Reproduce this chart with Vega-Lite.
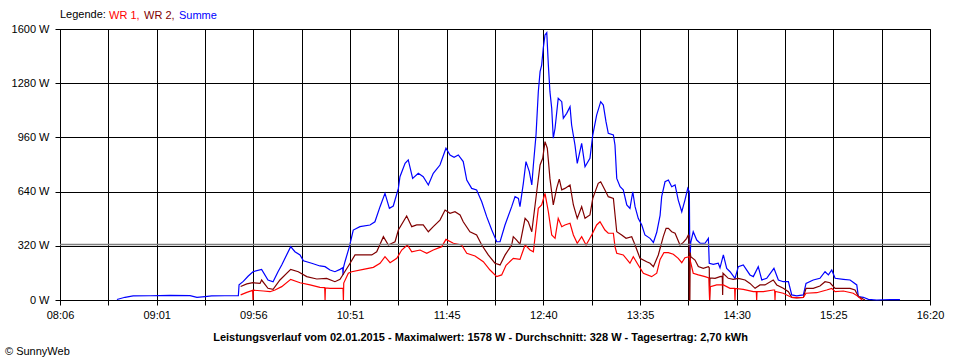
{
  "$schema": "https://vega.github.io/schema/vega-lite/v6.json",
  "width": 870,
  "height": 271,
  "autosize": {"type": "none"},
  "padding": {"left": 60, "top": 29, "right": 30, "bottom": 60},
  "background": "white",
  "config": {
    "font": "Liberation Sans",
    "view": {"stroke": "black", "strokeWidth": 1},
    "axis": {
      "labelFont": "Liberation Sans",
      "labelFontSize": 11,
      "labelColor": "black",
      "tickColor": "black",
      "tickSize": 5,
      "domainColor": "black",
      "gridColor": "black",
      "gridOpacity": 1,
      "gridWidth": 1
    }
  },
  "title": {
    "text": "© SunnyWeb",
    "orient": "bottom",
    "anchor": "start",
    "frame": "group",
    "font": "Liberation Sans",
    "fontSize": 11,
    "fontWeight": "normal",
    "color": "black",
    "dx": -55,
    "offset": 4
  },
  "layer": [
    {
      "data": {
        "values": [
          {"s": "Summe", "min": 518.3, "w": 3}, {"s": "Summe", "min": 522.9, "w": 16}, {"s": "Summe", "min": 527.5, "w": 24},
          {"s": "Summe", "min": 537.1, "w": 25}, {"s": "Summe", "min": 548.4, "w": 27}, {"s": "Summe", "min": 559.8, "w": 26},
          {"s": "Summe", "min": 563.7, "w": 16}, {"s": "Summe", "min": 568.3, "w": 20}, {"s": "Summe", "min": 572.0, "w": 24},
          {"s": "Summe", "min": 579.6, "w": 25}, {"s": "Summe", "min": 586.0, "w": 25}, {"s": "Summe", "min": 587.2, "w": 25},
          {"s": "Summe", "min": 587.6, "w": 90}, {"s": "Summe", "min": 590.0, "w": 110}, {"s": "Summe", "min": 592.7, "w": 140},
          {"s": "Summe", "min": 595.5, "w": 167}, {"s": "Summe", "min": 600.4, "w": 181}, {"s": "Summe", "min": 604.0, "w": 118},
          {"s": "Summe", "min": 606.9, "w": 108}, {"s": "Summe", "min": 609.7, "w": 167}, {"s": "Summe", "min": 611.8, "w": 207},
          {"s": "Summe", "min": 616.9, "w": 315}, {"s": "Summe", "min": 619.3, "w": 285}, {"s": "Summe", "min": 622.2, "w": 266},
          {"s": "Summe", "min": 624.1, "w": 232}, {"s": "Summe", "min": 628.8, "w": 217}, {"s": "Summe", "min": 633.5, "w": 201},
          {"s": "Summe", "min": 636.4, "w": 197}, {"s": "Summe", "min": 639.2, "w": 177}, {"s": "Summe", "min": 642.0, "w": 167},
          {"s": "Summe", "min": 644.9, "w": 181}, {"s": "Summe", "min": 646.4, "w": 190}, {"s": "Summe", "min": 646.6, "w": 148},
          {"s": "Summe", "min": 646.8, "w": 190}, {"s": "Summe", "min": 647.7, "w": 226}, {"s": "Summe", "min": 650.2, "w": 315},
          {"s": "Summe", "min": 652.4, "w": 413}, {"s": "Summe", "min": 656.2, "w": 433}, {"s": "Summe", "min": 661.9, "w": 443},
          {"s": "Summe", "min": 664.7, "w": 462}, {"s": "Summe", "min": 667.6, "w": 551}, {"s": "Summe", "min": 670.4, "w": 630},
          {"s": "Summe", "min": 672.9, "w": 541}, {"s": "Summe", "min": 675.1, "w": 555}, {"s": "Summe", "min": 678.0, "w": 659},
          {"s": "Summe", "min": 678.9, "w": 728}, {"s": "Summe", "min": 681.8, "w": 807}, {"s": "Summe", "min": 683.6, "w": 827},
          {"s": "Summe", "min": 686.1, "w": 718}, {"s": "Summe", "min": 689.3, "w": 748}, {"s": "Summe", "min": 692.1, "w": 728},
          {"s": "Summe", "min": 695.0, "w": 679}, {"s": "Summe", "min": 697.8, "w": 748}, {"s": "Summe", "min": 701.6, "w": 797},
          {"s": "Summe", "min": 705.0, "w": 896}, {"s": "Summe", "min": 707.3, "w": 856}, {"s": "Summe", "min": 709.6, "w": 843},
          {"s": "Summe", "min": 712.0, "w": 856}, {"s": "Summe", "min": 714.8, "w": 817}, {"s": "Summe", "min": 716.8, "w": 708},
          {"s": "Summe", "min": 719.6, "w": 659}, {"s": "Summe", "min": 722.4, "w": 650}, {"s": "Summe", "min": 725.3, "w": 580},
          {"s": "Summe", "min": 728.1, "w": 492}, {"s": "Summe", "min": 731.0, "w": 413}, {"s": "Summe", "min": 733.8, "w": 344},
          {"s": "Summe", "min": 735.7, "w": 344}, {"s": "Summe", "min": 738.5, "w": 443}, {"s": "Summe", "min": 742.3, "w": 551},
          {"s": "Summe", "min": 744.2, "w": 610}, {"s": "Summe", "min": 746.1, "w": 600}, {"s": "Summe", "min": 747.0, "w": 551},
          {"s": "Summe", "min": 748.9, "w": 689}, {"s": "Summe", "min": 750.4, "w": 817}, {"s": "Summe", "min": 752.3, "w": 758},
          {"s": "Summe", "min": 753.7, "w": 679}, {"s": "Summe", "min": 754.6, "w": 797}, {"s": "Summe", "min": 756.1, "w": 974},
          {"s": "Summe", "min": 757.4, "w": 1230}, {"s": "Summe", "min": 758.4, "w": 1348}, {"s": "Summe", "min": 759.3, "w": 1387},
          {"s": "Summe", "min": 760.2, "w": 1486}, {"s": "Summe", "min": 761.2, "w": 1565}, {"s": "Summe", "min": 762.2, "w": 1578},
          {"s": "Summe", "min": 763.1, "w": 1387}, {"s": "Summe", "min": 764.0, "w": 1230}, {"s": "Summe", "min": 765.0, "w": 1132},
          {"s": "Summe", "min": 765.9, "w": 955}, {"s": "Summe", "min": 766.9, "w": 1014}, {"s": "Summe", "min": 768.7, "w": 1191},
          {"s": "Summe", "min": 770.7, "w": 1171}, {"s": "Summe", "min": 771.6, "w": 1073}, {"s": "Summe", "min": 773.5, "w": 1102},
          {"s": "Summe", "min": 775.4, "w": 1141}, {"s": "Summe", "min": 776.3, "w": 1033}, {"s": "Summe", "min": 778.2, "w": 915},
          {"s": "Summe", "min": 779.5, "w": 807}, {"s": "Summe", "min": 782.0, "w": 925}, {"s": "Summe", "min": 783.9, "w": 787},
          {"s": "Summe", "min": 786.7, "w": 837}, {"s": "Summe", "min": 788.3, "w": 974}, {"s": "Summe", "min": 790.5, "w": 1092},
          {"s": "Summe", "min": 792.8, "w": 1171}, {"s": "Summe", "min": 794.3, "w": 1151}, {"s": "Summe", "min": 795.8, "w": 1053},
          {"s": "Summe", "min": 797.1, "w": 984}, {"s": "Summe", "min": 800.0, "w": 974}, {"s": "Summe", "min": 800.9, "w": 915},
          {"s": "Summe", "min": 801.9, "w": 718}, {"s": "Summe", "min": 803.8, "w": 669}, {"s": "Summe", "min": 805.6, "w": 650},
          {"s": "Summe", "min": 807.6, "w": 561}, {"s": "Summe", "min": 809.4, "w": 541}, {"s": "Summe", "min": 811.0, "w": 639},
          {"s": "Summe", "min": 812.3, "w": 551}, {"s": "Summe", "min": 814.1, "w": 482}, {"s": "Summe", "min": 816.1, "w": 443},
          {"s": "Summe", "min": 817.9, "w": 384}, {"s": "Summe", "min": 820.8, "w": 364}, {"s": "Summe", "min": 822.7, "w": 340},
          {"s": "Summe", "min": 824.6, "w": 400}, {"s": "Summe", "min": 826.5, "w": 500}, {"s": "Summe", "min": 827.4, "w": 610},
          {"s": "Summe", "min": 829.3, "w": 698}, {"s": "Summe", "min": 831.2, "w": 708}, {"s": "Summe", "min": 833.1, "w": 669},
          {"s": "Summe", "min": 835.0, "w": 679}, {"s": "Summe", "min": 836.8, "w": 590}, {"s": "Summe", "min": 838.8, "w": 521},
          {"s": "Summe", "min": 840.6, "w": 590}, {"s": "Summe", "min": 842.2, "w": 659}, {"s": "Summe", "min": 843.1, "w": 639},
          {"s": "Summe", "min": 843.4, "w": 217}, {"s": "Summe", "min": 843.9, "w": 340}, {"s": "Summe", "min": 845.3, "w": 403},
          {"s": "Summe", "min": 847.3, "w": 354}, {"s": "Summe", "min": 849.2, "w": 335}, {"s": "Summe", "min": 852.0, "w": 335},
          {"s": "Summe", "min": 853.9, "w": 364}, {"s": "Summe", "min": 854.4, "w": 217}, {"s": "Summe", "min": 856.7, "w": 210},
          {"s": "Summe", "min": 859.5, "w": 217}, {"s": "Summe", "min": 860.5, "w": 190}, {"s": "Summe", "min": 862.4, "w": 266},
          {"s": "Summe", "min": 864.3, "w": 187}, {"s": "Summe", "min": 866.2, "w": 167}, {"s": "Summe", "min": 869.0, "w": 128},
          {"s": "Summe", "min": 870.9, "w": 197}, {"s": "Summe", "min": 873.7, "w": 207}, {"s": "Summe", "min": 877.5, "w": 148},
          {"s": "Summe", "min": 879.4, "w": 138}, {"s": "Summe", "min": 882.2, "w": 197}, {"s": "Summe", "min": 884.2, "w": 118},
          {"s": "Summe", "min": 887.0, "w": 128}, {"s": "Summe", "min": 891.1, "w": 187}, {"s": "Summe", "min": 893.6, "w": 118},
          {"s": "Summe", "min": 896.4, "w": 108}, {"s": "Summe", "min": 899.3, "w": 108}, {"s": "Summe", "min": 901.2, "w": 30},
          {"s": "Summe", "min": 904.0, "w": 24}, {"s": "Summe", "min": 907.8, "w": 30}, {"s": "Summe", "min": 909.3, "w": 98},
          {"s": "Summe", "min": 913.4, "w": 118}, {"s": "Summe", "min": 917.2, "w": 128}, {"s": "Summe", "min": 920.1, "w": 167},
          {"s": "Summe", "min": 922.0, "w": 148}, {"s": "Summe", "min": 923.9, "w": 177}, {"s": "Summe", "min": 925.8, "w": 128},
          {"s": "Summe", "min": 930.5, "w": 122}, {"s": "Summe", "min": 934.3, "w": 118}, {"s": "Summe", "min": 938.1, "w": 89},
          {"s": "Summe", "min": 939.0, "w": 20}, {"s": "Summe", "min": 941.8, "w": 16}, {"s": "Summe", "min": 944.7, "w": 4},
          {"s": "Summe", "min": 949.4, "w": 0}, {"s": "Summe", "min": 957.0, "w": 3}, {"s": "Summe", "min": 962.6, "w": 2},

          {"s": "WR 2", "min": 588.5, "w": 80}, {"s": "WR 2", "min": 592.0, "w": 95}, {"s": "WR 2", "min": 595.5, "w": 102},
          {"s": "WR 2", "min": 599.5, "w": 98}, {"s": "WR 2", "min": 600.4, "w": 118}, {"s": "WR 2", "min": 604.0, "w": 69},
          {"s": "WR 2", "min": 606.9, "w": 63}, {"s": "WR 2", "min": 610.8, "w": 118}, {"s": "WR 2", "min": 616.9, "w": 181},
          {"s": "WR 2", "min": 621.2, "w": 167}, {"s": "WR 2", "min": 626.0, "w": 138}, {"s": "WR 2", "min": 631.7, "w": 124},
          {"s": "WR 2", "min": 637.3, "w": 128}, {"s": "WR 2", "min": 642.0, "w": 108}, {"s": "WR 2", "min": 644.9, "w": 122},
          {"s": "WR 2", "min": 650.6, "w": 217}, {"s": "WR 2", "min": 653.4, "w": 266}, {"s": "WR 2", "min": 658.1, "w": 266},
          {"s": "WR 2", "min": 662.9, "w": 266}, {"s": "WR 2", "min": 665.7, "w": 285}, {"s": "WR 2", "min": 669.5, "w": 374},
          {"s": "WR 2", "min": 672.3, "w": 325}, {"s": "WR 2", "min": 676.1, "w": 344}, {"s": "WR 2", "min": 678.0, "w": 413},
          {"s": "WR 2", "min": 682.7, "w": 496}, {"s": "WR 2", "min": 685.6, "w": 433}, {"s": "WR 2", "min": 688.4, "w": 443},
          {"s": "WR 2", "min": 692.1, "w": 443}, {"s": "WR 2", "min": 695.0, "w": 403}, {"s": "WR 2", "min": 697.8, "w": 433},
          {"s": "WR 2", "min": 701.6, "w": 472}, {"s": "WR 2", "min": 704.5, "w": 531}, {"s": "WR 2", "min": 707.3, "w": 512},
          {"s": "WR 2", "min": 710.1, "w": 521}, {"s": "WR 2", "min": 713.0, "w": 502}, {"s": "WR 2", "min": 714.8, "w": 462},
          {"s": "WR 2", "min": 718.6, "w": 403}, {"s": "WR 2", "min": 722.4, "w": 384}, {"s": "WR 2", "min": 725.3, "w": 325},
          {"s": "WR 2", "min": 729.0, "w": 266}, {"s": "WR 2", "min": 732.8, "w": 217}, {"s": "WR 2", "min": 735.7, "w": 207},
          {"s": "WR 2", "min": 738.5, "w": 265}, {"s": "WR 2", "min": 742.3, "w": 325}, {"s": "WR 2", "min": 743.2, "w": 374},
          {"s": "WR 2", "min": 745.1, "w": 354}, {"s": "WR 2", "min": 747.0, "w": 330}, {"s": "WR 2", "min": 749.9, "w": 482},
          {"s": "WR 2", "min": 751.7, "w": 462}, {"s": "WR 2", "min": 753.7, "w": 403}, {"s": "WR 2", "min": 756.5, "w": 639},
          {"s": "WR 2", "min": 758.4, "w": 797}, {"s": "WR 2", "min": 759.9, "w": 837}, {"s": "WR 2", "min": 761.2, "w": 935},
          {"s": "WR 2", "min": 762.5, "w": 896}, {"s": "WR 2", "min": 764.0, "w": 718}, {"s": "WR 2", "min": 765.9, "w": 561},
          {"s": "WR 2", "min": 767.8, "w": 659}, {"s": "WR 2", "min": 769.3, "w": 714}, {"s": "WR 2", "min": 770.7, "w": 650},
          {"s": "WR 2", "min": 772.5, "w": 659}, {"s": "WR 2", "min": 775.4, "w": 679}, {"s": "WR 2", "min": 777.3, "w": 561},
          {"s": "WR 2", "min": 779.5, "w": 482}, {"s": "WR 2", "min": 782.0, "w": 551}, {"s": "WR 2", "min": 783.9, "w": 482},
          {"s": "WR 2", "min": 786.7, "w": 502}, {"s": "WR 2", "min": 788.3, "w": 600}, {"s": "WR 2", "min": 791.4, "w": 689},
          {"s": "WR 2", "min": 792.8, "w": 698}, {"s": "WR 2", "min": 795.2, "w": 650}, {"s": "WR 2", "min": 797.1, "w": 610},
          {"s": "WR 2", "min": 800.0, "w": 600}, {"s": "WR 2", "min": 801.9, "w": 403}, {"s": "WR 2", "min": 804.7, "w": 384},
          {"s": "WR 2", "min": 807.2, "w": 364}, {"s": "WR 2", "min": 810.4, "w": 374}, {"s": "WR 2", "min": 812.3, "w": 325},
          {"s": "WR 2", "min": 815.1, "w": 246}, {"s": "WR 2", "min": 818.9, "w": 226}, {"s": "WR 2", "min": 820.8, "w": 217},
          {"s": "WR 2", "min": 822.7, "w": 197}, {"s": "WR 2", "min": 825.5, "w": 266}, {"s": "WR 2", "min": 828.3, "w": 374},
          {"s": "WR 2", "min": 829.9, "w": 423}, {"s": "WR 2", "min": 831.2, "w": 423}, {"s": "WR 2", "min": 833.1, "w": 403},
          {"s": "WR 2", "min": 835.0, "w": 394}, {"s": "WR 2", "min": 837.8, "w": 325}, {"s": "WR 2", "min": 839.7, "w": 340},
          {"s": "WR 2", "min": 841.6, "w": 364}, {"s": "WR 2", "min": 842.5, "w": 384}, {"s": "WR 2", "min": 842.9, "w": 380},
          {"s": "WR 2", "min": 843.1, "w": 0}, {"s": "WR 2", "min": 843.4, "w": 0}, {"s": "WR 2", "min": 843.6, "w": 280},
          {"s": "WR 2", "min": 843.9, "w": 256}, {"s": "WR 2", "min": 846.3, "w": 236}, {"s": "WR 2", "min": 848.2, "w": 197},
          {"s": "WR 2", "min": 851.0, "w": 187}, {"s": "WR 2", "min": 853.9, "w": 197}, {"s": "WR 2", "min": 854.4, "w": 190},
          {"s": "WR 2", "min": 854.6, "w": 0}, {"s": "WR 2", "min": 854.8, "w": 130}, {"s": "WR 2", "min": 857.7, "w": 128},
          {"s": "WR 2", "min": 860.5, "w": 138}, {"s": "WR 2", "min": 861.8, "w": 140}, {"s": "WR 2", "min": 862.0, "w": 30},
          {"s": "WR 2", "min": 862.2, "w": 158}, {"s": "WR 2", "min": 865.2, "w": 128}, {"s": "WR 2", "min": 868.0, "w": 122},
          {"s": "WR 2", "min": 870.9, "w": 128}, {"s": "WR 2", "min": 874.7, "w": 118}, {"s": "WR 2", "min": 877.5, "w": 98},
          {"s": "WR 2", "min": 880.4, "w": 69}, {"s": "WR 2", "min": 883.2, "w": 89}, {"s": "WR 2", "min": 886.0, "w": 89},
          {"s": "WR 2", "min": 890.7, "w": 118}, {"s": "WR 2", "min": 892.7, "w": 89}, {"s": "WR 2", "min": 896.4, "w": 69},
          {"s": "WR 2", "min": 899.3, "w": 49}, {"s": "WR 2", "min": 901.2, "w": 15}, {"s": "WR 2", "min": 904.0, "w": 12},
          {"s": "WR 2", "min": 907.8, "w": 15}, {"s": "WR 2", "min": 909.3, "w": 69}, {"s": "WR 2", "min": 913.4, "w": 69},
          {"s": "WR 2", "min": 917.2, "w": 83}, {"s": "WR 2", "min": 920.1, "w": 108}, {"s": "WR 2", "min": 922.9, "w": 102},
          {"s": "WR 2", "min": 925.8, "w": 69}, {"s": "WR 2", "min": 930.5, "w": 69}, {"s": "WR 2", "min": 934.3, "w": 69},
          {"s": "WR 2", "min": 937.1, "w": 59}, {"s": "WR 2", "min": 939.0, "w": 20}, {"s": "WR 2", "min": 942.8, "w": 0},

          {"s": "WR 1", "min": 588.5, "w": 30}, {"s": "WR 1", "min": 592.0, "w": 45}, {"s": "WR 1", "min": 595.3, "w": 57},
          {"s": "WR 1", "min": 595.5, "w": 0}, {"s": "WR 1", "min": 595.7, "w": 58}, {"s": "WR 1", "min": 601.4, "w": 53},
          {"s": "WR 1", "min": 605.2, "w": 49}, {"s": "WR 1", "min": 608.0, "w": 59}, {"s": "WR 1", "min": 611.8, "w": 79},
          {"s": "WR 1", "min": 616.9, "w": 122}, {"s": "WR 1", "min": 622.2, "w": 102}, {"s": "WR 1", "min": 627.9, "w": 89},
          {"s": "WR 1", "min": 633.5, "w": 75}, {"s": "WR 1", "min": 636.2, "w": 73}, {"s": "WR 1", "min": 636.4, "w": 0},
          {"s": "WR 1", "min": 636.6, "w": 72}, {"s": "WR 1", "min": 639.2, "w": 69}, {"s": "WR 1", "min": 645.8, "w": 69},
          {"s": "WR 1", "min": 646.6, "w": 69}, {"s": "WR 1", "min": 646.8, "w": 0}, {"s": "WR 1", "min": 647.0, "w": 100},
          {"s": "WR 1", "min": 649.6, "w": 158}, {"s": "WR 1", "min": 651.5, "w": 167}, {"s": "WR 1", "min": 658.1, "w": 181},
          {"s": "WR 1", "min": 663.8, "w": 193}, {"s": "WR 1", "min": 667.6, "w": 217}, {"s": "WR 1", "min": 670.4, "w": 256},
          {"s": "WR 1", "min": 673.3, "w": 220}, {"s": "WR 1", "min": 677.1, "w": 246}, {"s": "WR 1", "min": 679.9, "w": 295},
          {"s": "WR 1", "min": 683.1, "w": 325}, {"s": "WR 1", "min": 685.6, "w": 285}, {"s": "WR 1", "min": 690.3, "w": 295},
          {"s": "WR 1", "min": 694.1, "w": 276}, {"s": "WR 1", "min": 697.8, "w": 295}, {"s": "WR 1", "min": 702.6, "w": 315},
          {"s": "WR 1", "min": 705.0, "w": 358}, {"s": "WR 1", "min": 709.2, "w": 335}, {"s": "WR 1", "min": 713.9, "w": 325},
          {"s": "WR 1", "min": 716.8, "w": 276}, {"s": "WR 1", "min": 721.5, "w": 260}, {"s": "WR 1", "min": 726.2, "w": 226},
          {"s": "WR 1", "min": 730.0, "w": 177}, {"s": "WR 1", "min": 733.8, "w": 138}, {"s": "WR 1", "min": 736.6, "w": 148},
          {"s": "WR 1", "min": 739.1, "w": 205}, {"s": "WR 1", "min": 743.2, "w": 246}, {"s": "WR 1", "min": 747.0, "w": 240},
          {"s": "WR 1", "min": 749.9, "w": 325}, {"s": "WR 1", "min": 752.7, "w": 295}, {"s": "WR 1", "min": 754.6, "w": 285},
          {"s": "WR 1", "min": 757.4, "w": 541}, {"s": "WR 1", "min": 759.3, "w": 561}, {"s": "WR 1", "min": 761.2, "w": 630},
          {"s": "WR 1", "min": 763.1, "w": 521}, {"s": "WR 1", "min": 765.0, "w": 384}, {"s": "WR 1", "min": 766.9, "w": 364},
          {"s": "WR 1", "min": 768.7, "w": 482}, {"s": "WR 1", "min": 770.7, "w": 433}, {"s": "WR 1", "min": 772.5, "w": 443},
          {"s": "WR 1", "min": 775.4, "w": 453}, {"s": "WR 1", "min": 777.3, "w": 384}, {"s": "WR 1", "min": 779.5, "w": 335},
          {"s": "WR 1", "min": 782.0, "w": 374}, {"s": "WR 1", "min": 784.5, "w": 325}, {"s": "WR 1", "min": 787.7, "w": 384},
          {"s": "WR 1", "min": 790.5, "w": 443}, {"s": "WR 1", "min": 792.4, "w": 462}, {"s": "WR 1", "min": 795.2, "w": 413},
          {"s": "WR 1", "min": 797.1, "w": 394}, {"s": "WR 1", "min": 800.0, "w": 394}, {"s": "WR 1", "min": 800.9, "w": 315},
          {"s": "WR 1", "min": 801.9, "w": 276}, {"s": "WR 1", "min": 805.6, "w": 266}, {"s": "WR 1", "min": 809.4, "w": 217},
          {"s": "WR 1", "min": 811.3, "w": 256}, {"s": "WR 1", "min": 814.1, "w": 207}, {"s": "WR 1", "min": 817.0, "w": 158},
          {"s": "WR 1", "min": 821.7, "w": 138}, {"s": "WR 1", "min": 824.6, "w": 158}, {"s": "WR 1", "min": 826.5, "w": 240},
          {"s": "WR 1", "min": 828.7, "w": 280}, {"s": "WR 1", "min": 831.2, "w": 280}, {"s": "WR 1", "min": 834.0, "w": 270},
          {"s": "WR 1", "min": 836.8, "w": 246}, {"s": "WR 1", "min": 838.8, "w": 220}, {"s": "WR 1", "min": 840.6, "w": 250},
          {"s": "WR 1", "min": 843.1, "w": 256}, {"s": "WR 1", "min": 845.3, "w": 158}, {"s": "WR 1", "min": 848.2, "w": 148},
          {"s": "WR 1", "min": 852.0, "w": 138}, {"s": "WR 1", "min": 854.2, "w": 130}, {"s": "WR 1", "min": 854.6, "w": 0},
          {"s": "WR 1", "min": 855.0, "w": 79}, {"s": "WR 1", "min": 858.6, "w": 89}, {"s": "WR 1", "min": 862.4, "w": 89},
          {"s": "WR 1", "min": 866.2, "w": 69}, {"s": "WR 1", "min": 868.8, "w": 69}, {"s": "WR 1", "min": 869.0, "w": 0},
          {"s": "WR 1", "min": 869.2, "w": 69}, {"s": "WR 1", "min": 873.7, "w": 63}, {"s": "WR 1", "min": 879.4, "w": 49},
          {"s": "WR 1", "min": 881.1, "w": 49}, {"s": "WR 1", "min": 881.3, "w": 0}, {"s": "WR 1", "min": 881.5, "w": 49},
          {"s": "WR 1", "min": 885.1, "w": 49}, {"s": "WR 1", "min": 890.7, "w": 59}, {"s": "WR 1", "min": 891.5, "w": 59},
          {"s": "WR 1", "min": 891.7, "w": 0}, {"s": "WR 1", "min": 891.9, "w": 50}, {"s": "WR 1", "min": 896.4, "w": 40},
          {"s": "WR 1", "min": 901.2, "w": 15}, {"s": "WR 1", "min": 904.0, "w": 14}, {"s": "WR 1", "min": 907.8, "w": 15},
          {"s": "WR 1", "min": 909.3, "w": 40}, {"s": "WR 1", "min": 915.4, "w": 43}, {"s": "WR 1", "min": 921.0, "w": 59},
          {"s": "WR 1", "min": 923.9, "w": 69}, {"s": "WR 1", "min": 925.8, "w": 49}, {"s": "WR 1", "min": 930.5, "w": 53},
          {"s": "WR 1", "min": 936.1, "w": 40}, {"s": "WR 1", "min": 939.0, "w": 20}, {"s": "WR 1", "min": 941.1, "w": 0}
        ]
      },
      "mark": {"type": "line", "strokeWidth": 1.2, "interpolate": "linear"},
      "encoding": {
        "x": {
          "field": "min",
          "type": "quantitative",
          "scale": {"domain": [486, 979.65], "nice": false, "zero": false},
          "axis": {
            "values": [486, 513.425, 540.85, 568.275, 595.7, 623.125, 650.55, 677.975, 705.4, 732.825, 760.25, 787.675, 815.1, 842.525, 869.95, 897.375, 924.8, 952.225, 979.65],
            "labelExpr": "round((datum.value-486)/27.425)%2==1 ? '' : (floor(round(datum.value)/60)<10?'0':'') + floor(round(datum.value)/60) + ':' + (round(datum.value)%60<10?'0':'') + (round(datum.value)%60)",
            "labelFlush": false,
            "labelOverlap": false,
            "labelPadding": 4,
            "title": "Leistungsverlauf vom 02.01.2015 - Maximalwert: 1578 W - Durchschnitt: 328 W - Tagesertrag: 2,70 kWh",
            "titleFont": "Liberation Sans",
            "titleFontSize": 11,
            "titleFontWeight": "bold",
            "titleColor": "black",
            "titleX": 420,
            "titleY": 37,
            "titleAlign": "center",
            "titleBaseline": "middle"
          }
        },
        "y": {
          "field": "w",
          "type": "quantitative",
          "scale": {"domain": [0, 1600], "nice": false},
          "axis": {
            "values": [0, 320, 640, 960, 1280, 1600],
            "labelExpr": "datum.value + ' W'",
            "labelPadding": 6,
            "title": null
          }
        },
        "color": {
          "field": "s",
          "type": "nominal",
          "scale": {"domain": ["WR 1", "WR 2", "Summe"], "range": ["#ff0000", "#800000", "#0000ff"]},
          "legend": {
            "orient": "none",
            "legendX": 0,
            "legendY": -19,
            "direction": "horizontal",
            "title": "Legende:",
            "titleOrient": "left",
            "titleFont": "Liberation Sans",
            "titleFontSize": 11,
            "titleFontWeight": "normal",
            "titleColor": "black",
            "titlePadding": 2,
            "symbolSize": 1,
            "symbolStrokeWidth": 0,
            "symbolOpacity": 0,
            "labelOffset": -10,
            "columnPadding": 3,
            "labelFont": "Liberation Sans",
            "labelFontSize": 11,
            "labelExpr": "datum.label == 'Summe' ? datum.label : datum.label + ','",
            "encode": {"labels": {"update": {"fill": {"signal": "scale('color', datum.value)"}}}}
          }
        }
      }
    },
    {
      "data": {"values": [{"avg": 328}]},
      "mark": {"type": "rule", "color": "#808080", "strokeWidth": 1.5},
      "encoding": {
        "y": {
          "field": "avg",
          "type": "quantitative",
          "axis": {
            "values": [0, 320, 640, 960, 1280, 1600],
            "labelExpr": "datum.value + ' W'",
            "labelPadding": 6,
            "title": null
          }
        }
      }
    }
  ]
}
